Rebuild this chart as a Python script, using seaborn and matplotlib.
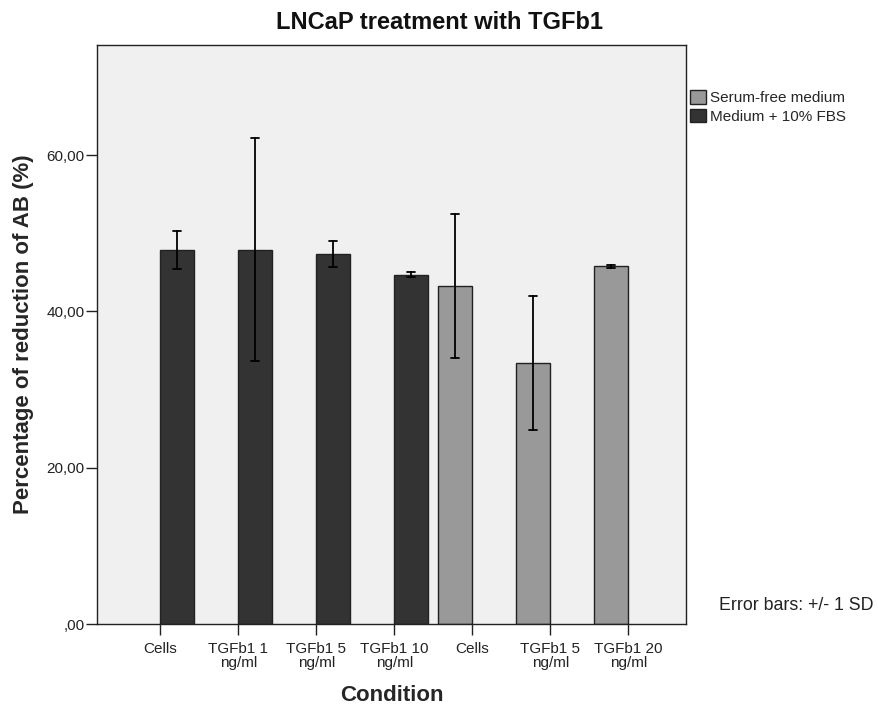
import numpy as np
import pandas as pd
import matplotlib
matplotlib.use("Agg")
import matplotlib.pyplot as plt
import seaborn as sns

# ---- data ----
condition_codes = ["c1", "c2", "c3", "c4", "c5", "c6", "c7"]
tick_labels = ["Cells", "TGFb1 1\nng/ml", "TGFb1 5\nng/ml", "TGFb1 10\nng/ml",
               "Cells", "TGFb1 5\nng/ml", "TGFb1 20\nng/ml"]
medium = ["Medium + 10% FBS", "Medium + 10% FBS", "Medium + 10% FBS", "Medium + 10% FBS",
          "Serum-free medium", "Serum-free medium", "Serum-free medium"]
means = [47.85, 47.9, 47.35, 44.7, 43.3, 33.4, 45.8]
sds = [2.45, 14.3, 1.7, 0.35, 9.2, 8.6, 0.2]
hue_levels = ["Serum-free medium", "Medium + 10% FBS"]
palette = {"Serum-free medium": "#999999", "Medium + 10% FBS": "#333333"}
y_ticks = [0, 20, 40, 60]
y_tick_labels = [",00", "20,00", "40,00", "60,00"]

# Table: two points per bar (mean - sd, mean + sd) -> mean and +/- 1 SD range
rows = []
for c, m, mu, sd in zip(condition_codes, medium, means, sds):
    rows.append({"Condition": c, "Medium": m, "value": mu - sd})
    rows.append({"Condition": c, "Medium": m, "value": mu + sd})
df = pd.DataFrame(rows)

sns.set_style("white")
plt.rcParams["font.family"] = ["Liberation Sans", "DejaVu Sans"]

fig = plt.figure(figsize=(8.79, 7.09), dpi=100)
ax = fig.add_axes([97 / 879, 1 - 624 / 709, (686 - 97) / 879, (624 - 45) / 709])
ax.set_facecolor("#f0f0f0")

sns.barplot(data=df, x="Condition", y="value", hue="Medium",
            order=condition_codes, hue_order=hue_levels, palette=palette,
            estimator="mean", errorbar=lambda v: (v.min(), v.max()),
            width=0.87, dodge=True, saturation=1,
            edgecolor="#222222", linewidth=1.0,
            capsize=0.2, err_kws={"color": "black", "linewidth": 1.3},
            ax=ax)

ax.set_ylim(0, 74.1)
ax.set_xlim(-0.81, 6.74)
ax.set_yticks(y_ticks)
ax.set_yticklabels(y_tick_labels, fontsize=11, color="#222222")
ax.set_xticks(range(len(condition_codes)))
ax.set_xticklabels(tick_labels, fontsize=11, color="#222222", linespacing=1.0)
ax.tick_params(axis="both", direction="out", length=8, width=1, color="#222222",
               bottom=True, left=True)
ax.tick_params(axis="y", pad=1)
ax.tick_params(axis="x", pad=5)

for s in ax.spines.values():
    s.set_visible(True)
    s.set_color("#222222")
    s.set_linewidth(1.0)

ax.set_xlabel("Condition", fontsize=16, fontweight="bold", labelpad=11)
ax.set_ylabel("Percentage of reduction of AB (%)", fontsize=16, fontweight="bold", labelpad=9)
fig.text(0.5, 1 - 29 / 709, "LNCaP treatment with TGFb1", fontsize=17,
         fontweight="bold", ha="center", va="baseline", color="#111111")

handles, labels = ax.get_legend_handles_labels()
ax.legend(handles, labels, loc="upper left", bbox_to_anchor=(0.997, 0.933),
          frameon=False, fontsize=11, handlelength=1.0, handleheight=1.0,
          handletextpad=0.3, labelspacing=0.25, borderaxespad=0)

fig.text(719 / 879, 1 - 605 / 709, "Error bars: +/- 1 SD", fontsize=12.8,
         va="center", ha="left", color="#222222")

fig.savefig("out.png", dpi=100, facecolor="white")
